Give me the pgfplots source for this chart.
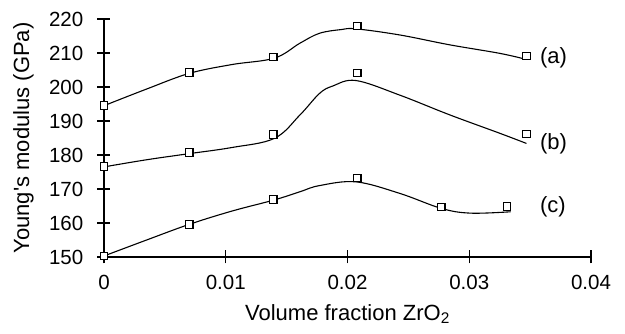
\documentclass[border=0pt]{standalone}
\usepackage{pgfplots}
\pgfplotsset{compat=1.18}
\usepackage{fontspec}
\setmainfont{Liberation Sans}
\begin{document}
\begin{tikzpicture}[font=\fontsize{22}{26}\selectfont]
\path[use as bounding box] (-104pt,-77pt) rectangle (521pt,257pt);
\begin{axis}[
  at={(0,0)}, anchor=origin,
  scale only axis, width=487pt, height=238pt,
  xmin=0, xmax=0.04, ymin=150, ymax=220,
  axis lines*=left,
  axis line style={line width=1.2pt},
  tick align=center,
  major tick length=13pt,
  tick style={line width=1.2pt, black},
  xtick={0,0.01,0.02,0.03,0.04},
  xticklabels={0,0.01,0.02,0.03,0.04},
  scaled x ticks=false,
  ytick={150,160,...,220},
  /pgf/number format/assume math mode=true,
  ticklabel style={font=\fontsize{20.5}{24}\selectfont},
  xticklabel style={anchor=north, inner sep=0pt, yshift=-11pt},
  yticklabel style={anchor=east, inner sep=0pt, xshift=-14pt},
  xlabel={Volume fraction ZrO\textsubscript{2}},
  ylabel={Young\textquotesingle s modulus (GPa)},
  label style={font=\fontsize{22}{26}\selectfont},
  xlabel style={at={(axis description cs:0.5,0)}, anchor=north, inner sep=0pt, yshift=-47pt},
  ylabel style={at={(axis description cs:0,0.5)}, anchor=north, inner sep=0pt, yshift=91pt},
  clip=false,
]
% fitted curves
\addplot[black, line width=1.1pt, smooth, tension=0.6] coordinates {
 (0,194.5) (0.0035,199.4) (0.007,204) (0.0105,206.6) (0.014,208.5) (0.0161,212.9)
 (0.0177,215.8) (0.0195,216.9) (0.0207,217.1) (0.0243,215.3) (0.0284,212.4) (0.0325,209.9) (0.0347,208.1)};
\addplot[black, line width=1.1pt, smooth, tension=0.6] coordinates {
 (0,176.5) (0.0035,178.6) (0.007,180.4) (0.0105,182.2) (0.014,184.9) (0.0161,191.8)
 (0.0177,198.1) (0.0188,200.3) (0.0207,201.9) (0.0243,197.6) (0.0284,191.8) (0.0325,186.4) (0.0347,183.4)};
\addplot[black, line width=1.1pt, smooth, tension=0.6] coordinates {
 (0,150.3) (0.0035,155.0) (0.007,159.6) (0.0105,163.5) (0.014,166.8) (0.0161,169.2)
 (0.0177,171.0) (0.0207,172.1) (0.0243,168.7) (0.0277,164.3) (0.0301,162.9) (0.0334,163.3)};
% data points
\addplot[only marks, mark=square*, mark size=3.8pt, mark options={fill=white, draw=black, line width=1.1pt}] coordinates {
 (0,194.6) (0.007,204.2) (0.0139,208.8) (0.0208,217.9) (0.0347,209.1)};
\addplot[only marks, mark=square*, mark size=3.8pt, mark options={fill=white, draw=black, line width=1.1pt}] coordinates {
 (0,176.6) (0.007,180.8) (0.0139,186.1) (0.0208,204.1) (0.0347,186.2)};
\addplot[only marks, mark=square*, mark size=3.8pt, mark options={fill=white, draw=black, line width=1.1pt}] coordinates {
 (0,150.3) (0.007,159.6) (0.0139,166.9) (0.0208,173.2) (0.0277,164.7) (0.0331,164.8)};
\node[anchor=west, inner sep=0pt] at (axis cs:0.0358,208.5) {(a)};
\node[anchor=west, inner sep=0pt] at (axis cs:0.0358,183.2) {(b)};
\node[anchor=west, inner sep=0pt] at (axis cs:0.0358,164.8) {(c)};
\end{axis}
\end{tikzpicture}
\end{document}
